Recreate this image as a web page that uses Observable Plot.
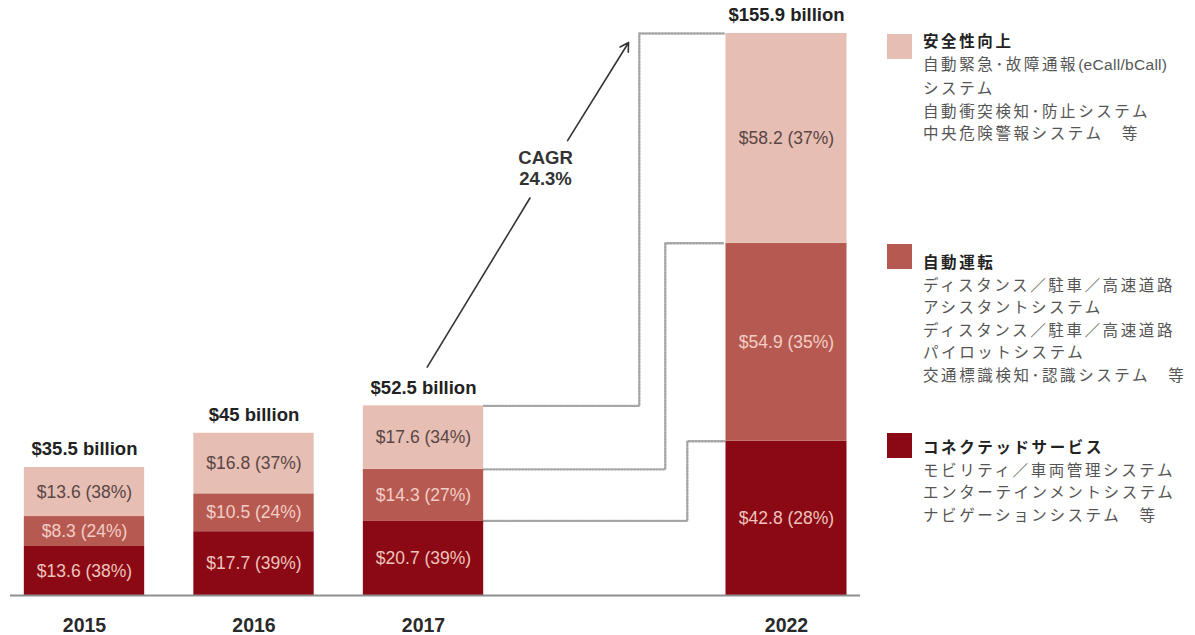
<!DOCTYPE html>
<html>
<head>
<meta charset="utf-8">
<script src="https://cdn.jsdelivr.net/npm/d3@7"></script>
<script src="https://cdn.jsdelivr.net/npm/@observablehq/plot@0.6"></script>
<style>
  body { margin: 0; background: #fff; font-family: "Liberation Sans", Arial, sans-serif; }
  #wrap { position: relative; width: 1195px; height: 635px; overflow: hidden; }
  #chart { position: absolute; left: 0; top: 0; }
  #legend { position: absolute; left: 887px; top: 0; width: 308px; height: 635px;
            font-family: "Noto Sans CJK JP", "Noto Sans", sans-serif; }
  .sw { position: absolute; left: 0; width: 25px; height: 25px; }
  .txt { position: absolute; left: 36px; font-size: 15.5px; line-height: 22.6px; letter-spacing: 2.6px; color: #555; white-space: nowrap; }
  .ttl { font-weight: bold; color: #222; }
  .lat { font-family: "Liberation Sans", Arial, sans-serif; letter-spacing: 0.3px; font-size: 15.5px; }
</style>
</head>
<body>
<div id="wrap">
  <div id="chart"></div>
  <div id="legend"></div>
</div>
<script>
// ---- data ----
const years = [2015, 2016, 2017, 2022];
const connected = [13.6, 17.7, 20.7, 42.8];
const connectedPct = [38, 39, 39, 28];
const autonomous = [8.3, 10.5, 14.3, 54.9];
const autonomousPct = [24, 24, 27, 35];
const safety = [13.6, 16.8, 17.6, 58.2];
const safetyPct = [38, 37, 34, 37];
const totals = [35.5, 45, 52.5, 155.9];
const categories = ["コネクテッドサービス", "自動運転", "安全性向上"];
const legendLines = [
  ["モビリティ／車両管理システム", "エンターテインメントシステム", "ナビゲーションシステム　等"],
  ["ディスタンス／駐車／高速道路", "アシスタントシステム", "ディスタンス／駐車／高速道路", "パイロットシステム", "交通標識検知･認識システム　等"],
  ["自動緊急･故障通報(eCall/bCall)", "システム", "自動衝突検知･防止システム", "中央危険警報システム　等"]
];
const cagrLabel = "CAGR\n24.3%";

// ---- styles ----
const colors = ["#8a0914", "#b65a51", "#e6beb4"];
const labelColors = ["#efc3bc", "#f3cdc6", "#5a4644"];
const hw = 0.355;                         // half bar width (year units)
const elbowX = [2020.96, 2020.57, 2020.11]; // connector elbows (annotation)
const cagrBottom = {x: 2017.02, y: 63.2};
const cagrGapLow = {x: 2018.18, y: 110.4};
const cagrGapHigh = {x: 2018.84, y: 126.2};
const cagrTop = {x: 2019.92, y: 153.4};
const cagrText = {x: 2018.45, y: 118.7};

// ---- derived stacked rows ----
const series = [[connected, connectedPct], [autonomous, autonomousPct], [safety, safetyPct]];
const rows = [];
years.forEach((yr, i) => {
  let acc = 0;
  series.forEach(([v, p], k) => {
    rows.push({year: yr, k, cat: categories[k], value: v[i], pct: p[i], y1: acc, y2: acc + v[i]});
    acc += v[i];
  });
});
const topOf = (yr, k) => rows.find(r => r.year === yr && r.k === k).y2;
const connectors = categories.flatMap((c, k) => {
  const a = topOf(2017, k), b = topOf(2022, k);
  return [
    {k, x: 2017 + hw, y: a},
    {k, x: elbowX[k], y: a},
    {k, x: elbowX[k], y: b},
    {k, x: 2022 - hw - 0.03, y: b}
  ];
});

const chart = Plot.plot({
  width: 870,
  height: 635,
  marginTop: 33,
  marginBottom: 40,
  marginLeft: 10,
  marginRight: 10,
  style: {fontFamily: "'Liberation Sans', Arial, sans-serif", background: "#fff"},
  x: {type: "linear", domain: [2015, 2017 + hw, 2022 - hw, 2022], range: [84, 483.2, 725.5, 786], axis: null},
  y: {domain: [0, 155.9], axis: null},
  color: {domain: categories, range: colors},
  marks: [
    Plot.line(connectors, {x: "x", y: "y", z: "k", stroke: "#a5a5a5", strokeWidth: 2.4, strokeDasharray: "1.2,2"}),
    Plot.rect(rows, {x1: d => d.year - hw, x2: d => d.year + hw, y1: "y1", y2: "y2", fill: "cat"}),
    ...[0, 1, 2].map(k => Plot.text(rows.filter(r => r.k === k), {
      x: "year", y: d => (d.y1 + d.y2) / 2,
      text: d => `$${d.value.toFixed(1)} (${d.pct}%)`,
      fill: labelColors[k], fontSize: 17.5
    })),
    Plot.ruleY([0], {stroke: "#8e8e8e", strokeWidth: 2}),
    Plot.text(years, {x: d => d, y: (d, i) => totals[i], text: (d, i) => `$${totals[i]} billion`,
      dy: -18, fontSize: 18.5, fontWeight: "bold", fill: "#222"}),
    Plot.text(years, {x: d => d, y: 0, dy: 30, text: d => String(d), fontSize: 19.5, fontWeight: "bold", fill: "#2a2a2a"}),
    Plot.link([0], {x1: cagrBottom.x, y1: cagrBottom.y, x2: cagrGapLow.x, y2: cagrGapLow.y, stroke: "#333", strokeWidth: 1.6}),
    Plot.arrow([0], {x1: cagrGapHigh.x, y1: cagrGapHigh.y, x2: cagrTop.x, y2: cagrTop.y, stroke: "#333", strokeWidth: 1.6, headLength: 9}),
    Plot.text([cagrLabel], {x: cagrText.x, y: cagrText.y, text: d => d, fontSize: 18.5, fontWeight: "bold", lineHeight: 1.15, fill: "#333"})
  ]
});
document.getElementById("chart").appendChild(chart);

// ---- legend (top to bottom: safety, autonomous, connected) ----
const legend = document.getElementById("legend");
const legendLayout = [ // swatch top / text top, px
  {k: 2, sw: 34, tx: 29},
  {k: 1, sw: 244, tx: 250},
  {k: 0, sw: 433, tx: 435}
];
function fillLine(el, line) {
  line.split(/([\x20-\x7E]+)/).forEach(part => {
    if (!part) return;
    if (/^[\x20-\x7E]+$/.test(part)) {
      const s = document.createElement("span");
      s.className = "lat";
      s.textContent = part;
      el.appendChild(s);
    } else {
      el.appendChild(document.createTextNode(part));
    }
  });
}
legendLayout.forEach(({k, sw, tx}) => {
  const s = document.createElement("div");
  s.className = "sw";
  s.style.top = sw + "px";
  s.style.background = colors[k];
  legend.appendChild(s);
  const t = document.createElement("div");
  t.className = "txt";
  t.style.top = tx + "px";
  const ttl = document.createElement("div");
  ttl.className = "ttl";
  ttl.textContent = categories[k];
  t.appendChild(ttl);
  legendLines[k].forEach(line => {
    const d = document.createElement("div");
    fillLine(d, line);
    t.appendChild(d);
  });
  legend.appendChild(t);
});
</script>
</body>
</html>
